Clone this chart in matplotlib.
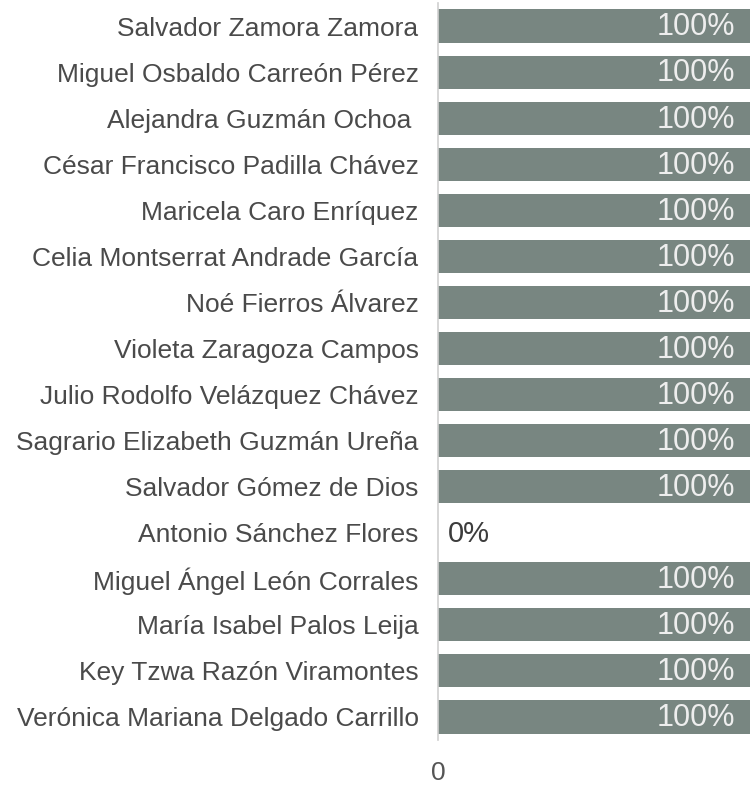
import matplotlib
matplotlib.use("Agg")
import matplotlib.pyplot as plt

# Datos
nombres = [
    "Salvador Zamora Zamora",
    "Miguel Osbaldo Carreón Pérez",
    "Alejandra Guzmán Ochoa ",
    "César Francisco Padilla Chávez",
    "Maricela Caro Enríquez",
    "Celia Montserrat Andrade García",
    "Noé Fierros Álvarez",
    "Violeta Zaragoza Campos",
    "Julio Rodolfo Velázquez Chávez",
    "Sagrario Elizabeth Guzmán Ureña",
    "Salvador Gómez de Dios",
    "Antonio Sánchez Flores",
    "Miguel Ángel León Corrales",
    "María Isabel Palos Leija",
    "Key Tzwa Razón Viramontes",
    "Verónica Mariana Delgado Carrillo",
]
porcentajes = [100, 100, 100, 100, 100, 100, 100, 100, 100, 100, 100, 0, 100, 100, 100, 100]

plt.rcParams['font.family'] = ['Liberation Sans', 'DejaVu Sans']

fig = plt.figure(figsize=(7.5, 7.86), dpi=100)
ax = fig.add_axes([438 / 750, 1 - 740 / 786, 1 - 438 / 750, 737 / 786])

posiciones = list(range(len(nombres)))
ax.barh(posiciones, porcentajes, height=0.72, color='#788681')

for y, v in zip(posiciones, porcentajes):
    if v > 0:
        ax.annotate(f"{v}%", (v, y), xytext=(-11, -1), textcoords='offset points',
                    ha='right', va='center', fontsize=22, color='#eeeeee')
    else:
        ax.annotate(f"{v}%", (v, y), xytext=(7, -1), textcoords='offset points',
                    ha='left', va='center', fontsize=21, color='#3c3c3c')

ax.set_xlim(0, 100)
ax.set_ylim(len(nombres) - 0.5, -0.5)
ax.set_yticks(posiciones)
ax.set_yticklabels(nombres, fontsize=19, color='#4a4a4a')
ax.set_xticks([0])
ax.set_xticklabels(["0"], fontsize=19, color='#555555')
ax.tick_params(axis='y', length=0, pad=14)
ax.tick_params(axis='x', length=0, pad=15)

for lado in ['top', 'right', 'bottom']:
    ax.spines[lado].set_visible(False)
ax.spines['left'].set_color('#cfcfcf')
ax.spines['left'].set_linewidth(1.2)

fig.savefig("out.png", dpi=100)
